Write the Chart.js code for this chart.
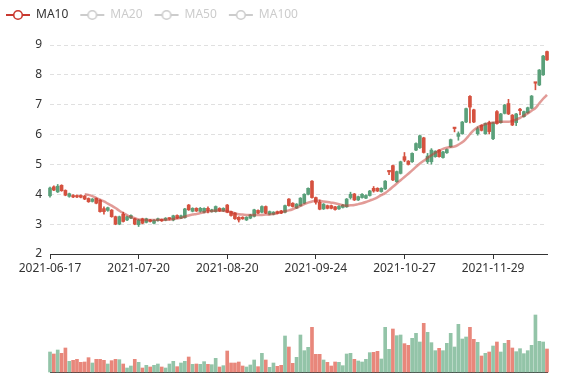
<!DOCTYPE html>
<html><head><meta charset="utf-8">
<script src="https://cdn.jsdelivr.net/npm/chart.js@4/dist/chart.umd.min.js"></script>
<style>
html,body{margin:0;padding:0;background:#fff;}
#wrap{position:relative;width:577px;height:380px;overflow:hidden;}
canvas{position:absolute;left:0;}
</style>
</head><body>
<div id="wrap">
<canvas id="k" width="577" height="290" style="top:0"></canvas>
<canvas id="v" width="577" height="90" style="top:290px"></canvas>
</div>
<script>
const dates = [
'2021-06-17','2021-06-18','2021-06-21','2021-06-22','2021-06-23','2021-06-24','2021-06-25','2021-06-28','2021-06-29','2021-06-30',
'2021-07-01','2021-07-02','2021-07-05','2021-07-06','2021-07-07','2021-07-08','2021-07-09','2021-07-12','2021-07-13','2021-07-14',
'2021-07-15','2021-07-16','2021-07-19','2021-07-20','2021-07-21','2021-07-22','2021-07-23','2021-07-26','2021-07-27','2021-07-28',
'2021-07-29','2021-07-30','2021-08-02','2021-08-03','2021-08-04','2021-08-05','2021-08-06','2021-08-09','2021-08-10','2021-08-11',
'2021-08-12','2021-08-13','2021-08-16','2021-08-17','2021-08-18','2021-08-19','2021-08-20','2021-08-23','2021-08-24','2021-08-25',
'2021-08-26','2021-08-27','2021-08-30','2021-08-31','2021-09-01','2021-09-02','2021-09-03','2021-09-06','2021-09-07','2021-09-08',
'2021-09-09','2021-09-10','2021-09-13','2021-09-14','2021-09-15','2021-09-16','2021-09-17','2021-09-22','2021-09-23','2021-09-24',
'2021-09-27','2021-09-28','2021-09-29','2021-09-30','2021-10-01','2021-10-04','2021-10-05','2021-10-06','2021-10-07','2021-10-08',
'2021-10-11','2021-10-12','2021-10-13','2021-10-14','2021-10-15','2021-10-18','2021-10-19','2021-10-20','2021-10-21','2021-10-22',
'2021-10-25','2021-10-26','2021-10-27','2021-10-28','2021-10-29','2021-11-01','2021-11-02','2021-11-03','2021-11-04','2021-11-05',
'2021-11-08','2021-11-09','2021-11-10','2021-11-11','2021-11-12','2021-11-15','2021-11-16','2021-11-17','2021-11-18','2021-11-19',
'2021-11-22','2021-11-23','2021-11-24','2021-11-25','2021-11-26','2021-11-29','2021-11-30','2021-12-01','2021-12-02','2021-12-03',
'2021-12-06','2021-12-07','2021-12-08','2021-12-09','2021-12-10','2021-12-13','2021-12-14','2021-12-15','2021-12-16','2021-12-17'];

const opens = [4.21,4.14,4.27,4.12,3.97,4.02,3.91,3.91,3.90,3.84,
3.75,3.84,3.70,3.42,3.42,3.55,3.25,3.00,3.25,3.09,
3.25,3.29,3.00,3.14,3.03,3.18,3.09,3.13,3.18,3.11,
3.20,3.17,3.28,3.20,3.28,3.51,3.48,3.53,3.44,3.53,
3.53,3.44,3.48,3.59,3.44,3.53,3.40,3.29,3.18,3.14,
3.18,3.23,3.31,3.48,3.37,3.59,3.37,3.42,3.40,3.36,
3.37,3.62,3.62,3.59,3.67,3.87,4.00,4.20,3.89,3.73,
3.50,3.67,3.53,3.53,3.49,3.60,3.64,3.84,4.00,3.81,
3.92,4.00,3.96,4.11,4.11,4.11,4.20,4.44,4.75,4.48,
4.76,5.09,5.14,5.00,5.37,5.70,5.96,5.40,5.28,5.48,
5.44,5.26,5.42,5.50,5.83,6.20,6.03,6.42,6.87,6.92,
6.42,6.20,6.14,6.37,6.10,6.40,6.37,6.69,6.99,6.69,
6.32,6.69,6.80,6.77,6.90,7.29,7.72,8.16,8.63,8.50];

const closes = [3.95,4.25,4.08,4.30,4.13,3.93,3.96,3.96,3.96,3.94,
3.86,3.76,3.86,3.80,3.52,3.46,3.47,3.25,3.00,3.33,
3.14,3.20,3.18,2.98,3.18,3.06,3.14,3.03,3.12,3.15,
3.13,3.17,3.14,3.29,3.20,3.22,3.64,3.43,3.53,3.43,
3.40,3.53,3.42,3.42,3.53,3.44,3.64,3.42,3.37,3.23,
3.23,3.14,3.20,3.26,3.46,3.40,3.59,3.33,3.33,3.42,
3.44,3.40,3.84,3.70,3.54,3.62,3.70,4.00,4.44,3.89,
3.73,3.51,3.62,3.62,3.58,3.51,3.56,3.58,3.89,4.01,
3.81,3.89,3.87,3.96,4.20,4.20,4.09,4.18,4.75,4.96,
4.42,4.70,5.26,5.11,5.09,5.48,5.56,5.89,5.09,5.09,
5.26,5.48,5.23,5.39,5.59,6.20,5.94,6.03,6.42,7.28,
6.83,6.03,6.31,6.03,6.40,5.86,6.77,6.40,6.71,7.04,
6.65,6.40,6.80,6.60,6.73,6.88,7.72,7.66,8.00,8.78];

const lows = [3.90,4.12,4.06,4.10,3.95,3.90,3.89,3.89,3.88,3.82,
3.73,3.74,3.68,3.40,3.33,3.43,3.23,2.98,2.98,3.07,
3.12,3.18,2.98,2.92,3.01,3.04,3.07,3.01,3.10,3.09,
3.11,3.14,3.11,3.18,3.18,3.20,3.46,3.41,3.42,3.40,
3.38,3.38,3.40,3.40,3.42,3.42,3.38,3.27,3.16,3.07,
3.16,3.12,3.18,3.24,3.35,3.38,3.35,3.31,3.31,3.34,
3.35,3.38,3.60,3.57,3.52,3.60,3.68,3.98,3.87,3.67,
3.48,3.49,3.51,3.51,3.47,3.49,3.54,3.56,3.84,3.79,
3.79,3.87,3.85,3.94,4.07,4.09,4.07,4.16,4.66,4.46,
4.40,4.68,5.09,4.98,5.07,5.46,5.54,5.38,5.03,5.01,
5.24,5.24,5.21,5.37,5.57,6.09,5.81,6.01,6.40,6.39,
6.40,5.98,6.12,6.01,6.02,5.83,6.35,6.38,6.69,6.67,
6.30,6.30,6.66,6.58,6.71,6.86,7.50,7.64,7.98,8.48];

const highs = [4.24,4.28,4.33,4.32,4.15,4.04,3.99,3.98,3.98,3.96,
3.88,3.86,3.88,3.82,3.58,3.57,3.49,3.27,3.27,3.40,
3.27,3.31,3.20,3.16,3.20,3.20,3.16,3.15,3.20,3.17,
3.22,3.22,3.30,3.31,3.30,3.53,3.66,3.55,3.55,3.56,
3.55,3.58,3.50,3.61,3.55,3.55,3.66,3.44,3.39,3.25,
3.25,3.25,3.33,3.50,3.48,3.61,3.61,3.44,3.42,3.44,
3.46,3.64,3.86,3.72,3.69,3.89,4.02,4.22,4.46,3.91,
3.81,3.69,3.64,3.64,3.60,3.62,3.66,3.86,4.07,4.03,
3.94,4.02,3.98,4.13,4.26,4.22,4.22,4.46,4.78,4.98,
4.78,5.11,5.40,5.13,5.39,5.72,5.98,5.91,5.37,5.53,
5.46,5.50,5.44,5.52,5.85,6.24,6.09,6.44,6.89,7.31,
6.85,6.26,6.33,6.39,6.45,6.42,6.80,6.71,7.01,7.18,
6.67,6.71,6.88,6.79,6.92,7.31,7.75,8.18,8.65,8.80];

const ma10 = [null,null,null,null,null,null,null,null,null,
4.00,3.98,3.94,3.88,3.82,3.76,3.69,3.62,3.54,3.45,
3.37,3.30,3.24,3.20,3.16,3.14,3.14,3.14,3.14,3.14,
3.15,3.15,3.15,3.17,3.19,3.21,3.25,3.29,3.32,3.34,
3.37,3.40,3.42,3.44,3.45,3.46,3.45,3.43,3.40,3.36,
3.33,3.32,3.31,3.31,3.31,3.31,3.31,3.32,3.32,3.34,
3.37,3.40,3.43,3.46,3.50,3.55,3.61,3.67,3.72,3.76,
3.78,3.78,3.76,3.74,3.72,3.70,3.67,3.63,3.62,3.63,
3.64,3.67,3.70,3.74,3.79,3.84,3.90,3.97,4.04,4.14,
4.25,4.36,4.47,4.58,4.69,4.80,4.92,5.03,5.12,5.22,
5.31,5.39,5.46,5.52,5.56,5.58,5.60,5.66,5.74,5.86,
6.01,6.15,6.24,6.30,6.35,6.38,6.40,6.42,6.43,6.43,
6.43,6.46,6.50,6.56,6.63,6.71,6.80,6.89,7.05,7.20,
7.33];

const volumes = [60,54,66,56,72,32,35,38,29,30,
43,27,38,38,35,24,34,38,37,24,
12,18,38,29,12,20,15,20,24,15,
12,24,32,16,27,32,45,23,24,23,
31,23,22,41,15,19,63,27,27,30,
18,15,21,36,16,56,36,14,27,17,
20,108,75,26,44,111,64,74,134,53,
53,36,29,18,30,29,19,54,56,38,
33,30,38,58,59,62,39,134,68,129,
109,111,85,80,101,116,90,146,119,88,
64,71,64,86,116,75,143,99,105,134,
98,89,48,56,60,78,90,60,86,95,
72,61,70,55,64,80,171,92,90,69];

const maNames = ['MA10','MA20','MA50','MA100'];
const yTicks = [2,3,4,5,6,7,8,9];

const UP = '#d5513f', DOWN = '#5aa07a';
const VUP = '#e8877b', VDOWN = '#93c4a8';
const LABEL_EVERY = 23;

Chart.defaults.font.family = '"Noto Sans", sans-serif';
Chart.defaults.font.size = 12;
Chart.defaults.color = '#333';
Chart.defaults.animation = false;

function candleColor(i){
  const o = opens[i], c = closes[i];
  if (c > o) return UP;
  if (c < o) return DOWN;
  return (i > 0 && c < closes[i-1]) ? DOWN : UP;
}
function volColor(i){ return closes[i] > opens[i] ? VUP : VDOWN; }

function legendIcon(color){
  const c = document.createElement('canvas');
  c.width = 26; c.height = 14;
  const g = c.getContext('2d');
  g.strokeStyle = color; g.lineWidth = 2;
  g.beginPath(); g.moveTo(1,7); g.lineTo(25,7); g.stroke();
  g.beginPath(); g.arc(13,7,4.3,0,Math.PI*2);
  g.fillStyle = '#fff'; g.fill(); g.lineWidth = 1.6; g.stroke();
  return c;
}
const icons = [legendIcon('#c9382f'), legendIcon('#cccccc'), legendIcon('#cccccc'), legendIcon('#cccccc')];

const legendTweak = {
  id: 'legendTweak',
  beforeInit(chart){
    const fit = chart.legend.fit;
    chart.legend.fit = function(){ fit.call(this); this.height = 45; };
  },
  afterLayout(chart){ chart.legend.left = -6; chart.legend.top = -3; }
};

new Chart(document.getElementById('k'), {
  type: 'bar',
  data: {
    labels: dates,
    datasets: [
      { label: 'wick', data: dates.map((_, i) => [lows[i], highs[i]]),
        backgroundColor: ctx => candleColor(ctx.dataIndex), barThickness: 1, grouped: false, order: 2, clip: false },
      { label: 'body', data: dates.map((_, i) => [opens[i], closes[i]]),
        backgroundColor: ctx => candleColor(ctx.dataIndex), barThickness: 3, minBarLength: 1.5, grouped: false, order: 1, clip: false },
      { type: 'line', label: maNames[0], data: ma10, borderColor: 'rgba(198,56,48,0.5)', borderWidth: 2.5,
        pointRadius: 0, tension: 0.4, order: 0, fill: false },
      { type: 'line', label: maNames[1], data: [], hidden: true },
      { type: 'line', label: maNames[2], data: [], hidden: true },
      { type: 'line', label: maNames[3], data: [], hidden: true }
    ]
  },
  options: {
    responsive: false,
    animation: false,
    layout: { padding: { left: 0, right: 30, top: 0, bottom: 0 } },
    plugins: {
      tooltip: { enabled: false },
      legend: {
        display: true, position: 'top', align: 'start', onClick: () => {},
        labels: {
          usePointStyle: true, pointStyleWidth: 24, padding: 12,
          font: { size: 12 },
          generateLabels: () => maNames.map((name, k) => ({
            text: name, fontColor: k === 0 ? '#333' : '#cccccc', pointStyle: icons[k],
            hidden: false, lineWidth: 0, strokeStyle: 'rgba(0,0,0,0)', fillStyle: 'rgba(0,0,0,0)', datasetIndex: 2 + k
          }))
        }
      }
    },
    scales: {
      x: {
        type: 'category', offset: false,
        grid: { offset: false, drawOnChartArea: false, drawTicks: true, tickLength: 5,
          color: ctx => (ctx.index % LABEL_EVERY === 0 ? '#333' : 'rgba(0,0,0,0)'), lineWidth: 1 },
        border: { display: true, color: '#333', width: 1 },
        ticks: { autoSkip: false, maxRotation: 0, minRotation: 0, padding: 2, color: '#333',
          callback: (v, i) => (i % LABEL_EVERY === 0 ? dates[i] : '') },
        afterFit: s => { s.height = 36; }
      },
      y: {
        min: 2, max: 9,
        afterBuildTicks: s => { s.ticks = yTicks.map(v => ({ value: v })); },
        grid: { color: '#e0e0e0', drawTicks: false, lineWidth: 1 },
        border: { display: false, dash: [4, 3] },
        ticks: { padding: 8, color: '#333' },
        afterFit: s => { s.width = 50; }
      }
    }
  },
  plugins: [legendTweak]
});

new Chart(document.getElementById('v'), {
  type: 'bar',
  data: {
    labels: dates,
    datasets: [{ label: 'Volume', data: volumes, backgroundColor: ctx => volColor(ctx.dataIndex),
      barThickness: 3, clip: false }]
  },
  options: {
    responsive: false,
    animation: false,
    layout: { padding: { left: 50, right: 30, top: 22, bottom: 8 } },
    plugins: { legend: { display: false }, tooltip: { enabled: false } },
    scales: {
      x: { type: 'category', offset: false,
        grid: { display: false, offset: false },
        border: { display: true, color: '#333', width: 1 },
        ticks: { display: false },
        afterFit: s => { s.height = 0; } },
      y: { display: false, min: 0, max: 180 }
    }
  }
});
</script>
</body></html>
